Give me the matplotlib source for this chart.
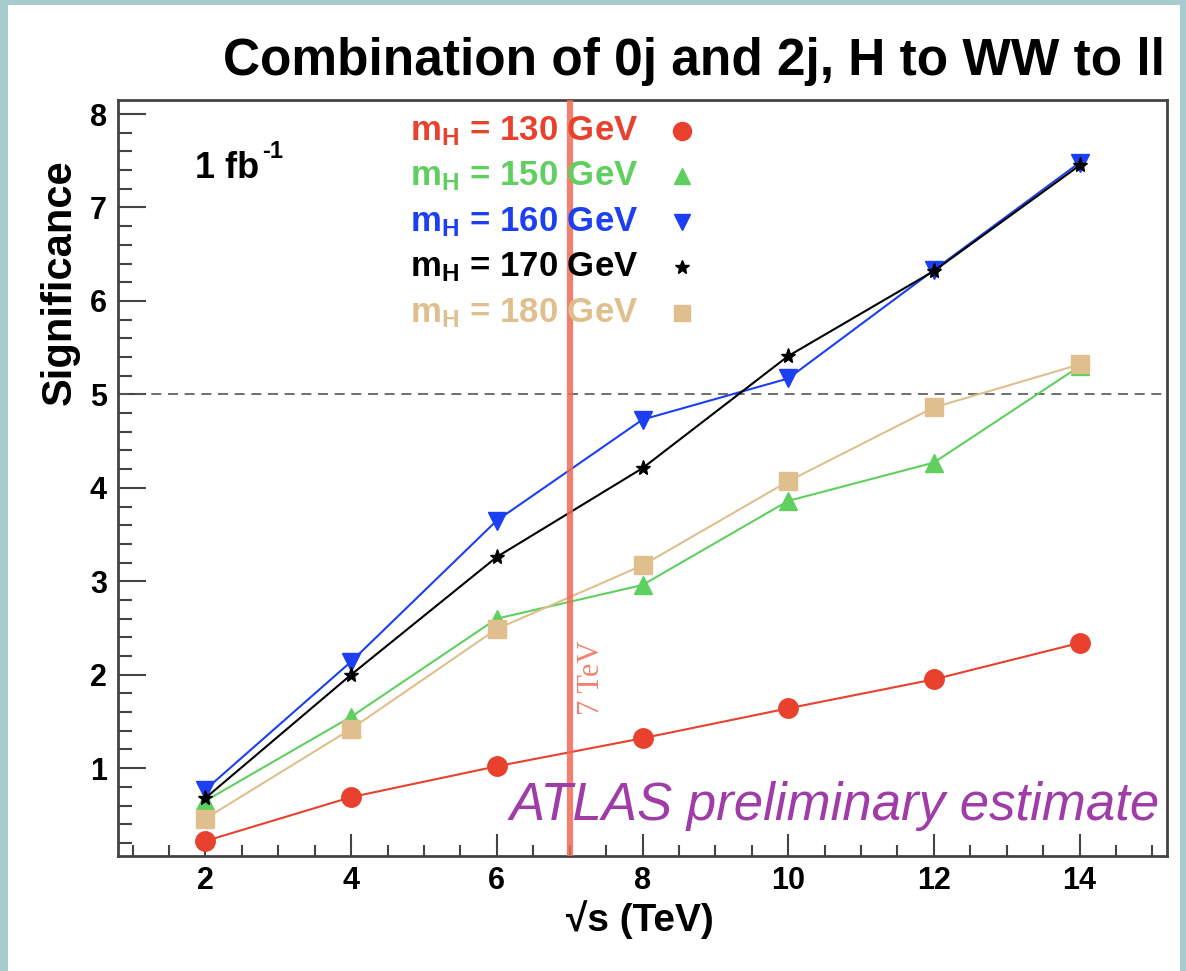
import matplotlib
matplotlib.use("Agg")
import matplotlib.pyplot as plt
from matplotlib.patches import Rectangle
from matplotlib.lines import Line2D
from matplotlib.ticker import MultipleLocator

# ===== Data =====
sqrt_s = [2, 4, 6, 8, 10, 12, 14]
sig_130 = [0.22, 0.69, 1.02, 1.32, 1.64, 1.95, 2.34]
sig_150 = [0.65, 1.55, 2.60, 2.96, 3.86, 4.27, 5.30]
sig_160 = [0.77, 2.14, 3.65, 4.73, 5.17, 6.33, 7.48]
sig_170 = [0.68, 2.00, 3.26, 4.21, 5.41, 6.32, 7.45]
sig_180 = [0.46, 1.42, 2.49, 3.17, 4.07, 4.86, 5.32]

masses = [130, 150, 160, 170, 180]
series = [sig_130, sig_150, sig_160, sig_170, sig_180]
colors = ["#e8412e", "#5fcf5f", "#1d3ff2", "black", "#dfbf8e"]
markers = ["o", "^", "v", "*", "s"]
msizes = [14, 13, 13, 11, 13]

discovery = 5.0
lhc_energy = 7.0

plt.rcParams["font.family"] = ["Liberation Sans", "DejaVu Sans"]
plt.rcParams["mathtext.fontset"] = "custom"
plt.rcParams["mathtext.rm"] = "Liberation Sans:bold"
plt.rcParams["mathtext.bf"] = "Liberation Sans:bold"
plt.rcParams["mathtext.it"] = "Liberation Sans:bold"

W, H = 1186, 971
fig = plt.figure(figsize=(W / 100, H / 100), dpi=100, facecolor="#a8cbcd")
fig.add_artist(Rectangle((8 / W, 0), (1180 - 8) / W, (H - 5) / H,
                         transform=fig.transFigure, facecolor="white",
                         edgecolor="none", zorder=0))

ax = fig.add_axes([118 / W, (H - 856) / H, (1167 - 118) / W, (856 - 100) / H])
ax.set_facecolor("white")

# ===== Curves =====
for m, ys, c, mk, ms in zip(masses, series, colors, markers, msizes):
    ax.plot(sqrt_s, ys, color=c, lw=1.5, marker=mk, ms=ms,
            markeredgecolor=c, markerfacecolor=c, zorder=3)

ax.axhline(discovery, color="#555555", lw=1.2, ls=(0, (6, 4)), zorder=2)
ax.axvline(lhc_energy, color="#f06a55", lw=4.5, alpha=0.85, zorder=6)
ax.text(lhc_energy + 0.3, 1.97, "7 TeV", rotation=90, color="#f08370",
        fontsize=22, family="Liberation Serif", ha="center", va="center")

ax.set_xlim(0.8, 15.2)
ax.set_ylim(0.06, 8.15)
ax.xaxis.set_major_locator(MultipleLocator(2))
ax.xaxis.set_minor_locator(MultipleLocator(0.5))
ax.yaxis.set_major_locator(MultipleLocator(1))
ax.yaxis.set_minor_locator(MultipleLocator(0.2))
ax.tick_params(axis="both", which="both", direction="in", color="#444444",
               width=1.5, labelsize=22)
ax.tick_params(axis="x", which="major", length=16, pad=7)
ax.tick_params(axis="x", which="minor", length=8)
ax.tick_params(axis="y", which="major", length=20, pad=8)
ax.tick_params(axis="y", which="minor", length=10)
for lab in ax.get_xticklabels() + ax.get_yticklabels():
    lab.set_fontweight("bold")
for sp in ax.spines.values():
    sp.set_color("#444444")
    sp.set_linewidth(2)

# ===== Texts =====
fig.text(1165 / W, 1 - 62 / H, "Combination of 0j and 2j, H to WW to ll",
         fontsize=37, fontweight="bold", ha="right", va="center")
fig.text(60 / W, 1 - 282 / H, "Significance", rotation=90, fontsize=30,
         fontweight="bold", ha="center", va="center")
fig.text(640 / W, 1 - 920 / H, "\u221as (TeV)", fontsize=28,
         fontweight="bold", ha="center", va="center")
fig.text(195 / W, 1 - 178 / H, "1 fb", fontsize=26,
         fontweight="bold", ha="left", va="baseline")
fig.text(262 / W, 1 - 158 / H, "-1", fontsize=17,
         fontweight="bold", ha="left", va="baseline")
fig.text(1160 / W, 1 - 820 / H, "ATLAS preliminary estimate", fontsize=38,
         style="italic", color="#a03ca8", ha="right", va="baseline")

# ===== Legend =====
for i, (m, c, mk, ms) in enumerate(zip(masses, colors, markers, msizes)):
    yc = 1 - (131 + 45.5 * i) / H
    fig.text(410 / W, yc, r"$\mathrm{m_H}$ = %d GeV" % m, fontsize=25,
             fontweight="bold", color=c, ha="left", va="center", zorder=4)
    fig.add_artist(Line2D([682 / W], [yc], transform=fig.transFigure,
                          marker=mk, ms=ms - 1, color=c, ls="none"))

fig.savefig("out.png", dpi=100, facecolor=fig.get_facecolor())
